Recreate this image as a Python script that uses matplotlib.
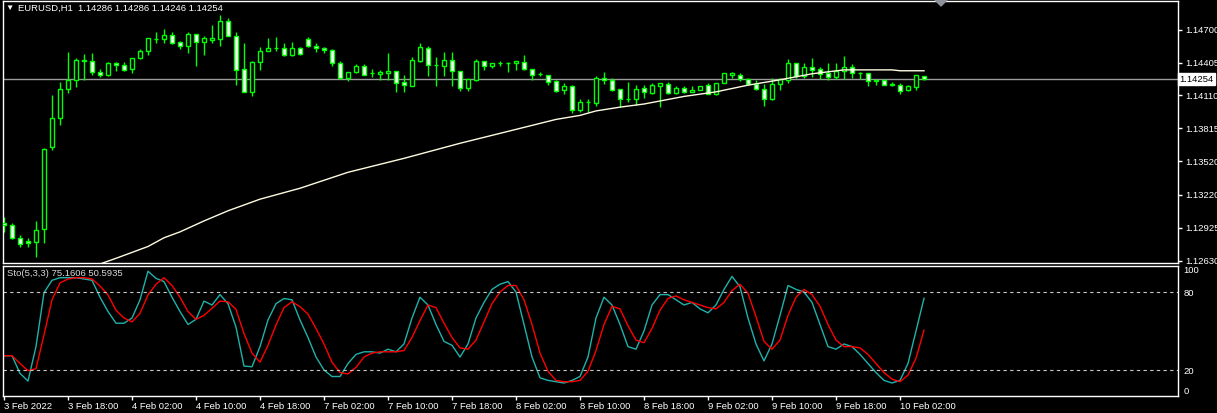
import numpy as np
import matplotlib
matplotlib.use('Agg')
import matplotlib.pyplot as plt
from matplotlib.patches import Polygon
from matplotlib.transforms import blended_transform_factory

plt.rcParams['font.family'] = ['Liberation Sans', 'DejaVu Sans']

# EURUSD H1 candles (3 Feb 10:00 .. 10 Feb 05:00)
o = [1.12965, 1.12947, 1.12836, 1.12809, 1.12800, 1.12912, 1.13645, 1.13909, 1.14170, 1.14250,
     1.14418, 1.14416, 1.14324, 1.14289, 1.14402, 1.14384, 1.14345, 1.14443, 1.14506, 1.14617,
     1.14613, 1.14652, 1.14590, 1.14550, 1.14661, 1.14586, 1.14610, 1.14617, 1.14780, 1.14646,
     1.14348, 1.14139, 1.14407, 1.14506, 1.14534, 1.14536, 1.14470, 1.14536, 1.14617, 1.14554,
     1.14536, 1.14518, 1.14402, 1.14264, 1.14318, 1.14378, 1.14309, 1.14304, 1.14309, 1.14333,
     1.14229, 1.14193, 1.14416, 1.14536, 1.14384, 1.14372, 1.14429, 1.14333, 1.14175, 1.14250,
     1.14423, 1.14372, 1.14398, 1.14405, 1.14398, 1.14407, 1.14348, 1.14300, 1.14295, 1.14235,
     1.14161, 1.14190, 1.13976, 1.14047, 1.14041, 1.14268, 1.14250, 1.14170, 1.14080, 1.14080,
     1.14179, 1.14134, 1.14193, 1.14214, 1.14130, 1.14179, 1.14139, 1.14163, 1.14199, 1.14125,
     1.14220, 1.14295, 1.14297, 1.14259, 1.14214, 1.14170, 1.14074, 1.14214, 1.14244, 1.14402,
     1.14282, 1.14369, 1.14348, 1.14309, 1.14273, 1.14327, 1.14369, 1.14313, 1.14313, 1.14244,
     1.14244, 1.14208, 1.14205, 1.14161, 1.14184, 1.14286]
h = [1.13019, 1.12965, 1.12858, 1.12831, 1.12983, 1.13636, 1.14110, 1.14230, 1.14503, 1.14449,
     1.14481, 1.14491, 1.14348, 1.14414, 1.14407, 1.14414, 1.14449, 1.14527, 1.14628, 1.14682,
     1.14706, 1.14676, 1.14601, 1.14682, 1.14664, 1.14646, 1.14744, 1.14834, 1.14804, 1.14676,
     1.14577, 1.14423, 1.14548, 1.14622, 1.14631, 1.14577, 1.14592, 1.14548, 1.14637, 1.14577,
     1.14548, 1.14527, 1.14423, 1.14324, 1.14393, 1.14393, 1.14348, 1.14339, 1.14488, 1.14333,
     1.14297, 1.14458, 1.14584, 1.14557, 1.14452, 1.14503, 1.14503, 1.14333, 1.14259, 1.14432,
     1.14423, 1.14402, 1.14423, 1.14414, 1.14423, 1.14476, 1.14348, 1.14318, 1.14295, 1.14244,
     1.14223, 1.14199, 1.14080, 1.14080, 1.14280, 1.14324, 1.14264, 1.14170, 1.14229, 1.14205,
     1.14199, 1.14223, 1.14223, 1.14229, 1.14193, 1.14193, 1.14190, 1.14196, 1.14223, 1.14223,
     1.14313, 1.14318, 1.14309, 1.14268, 1.14244, 1.14214, 1.14268, 1.14268, 1.14438, 1.14402,
     1.14402, 1.14447, 1.14369, 1.14402, 1.14402, 1.14467, 1.14393, 1.14318, 1.14313, 1.14259,
     1.14259, 1.14229, 1.14223, 1.14199, 1.14289, 1.14286]
l = [1.12885, 1.12827, 1.12751, 1.12751, 1.12666, 1.12791, 1.13618, 1.13842, 1.14130, 1.14186,
     1.14250, 1.14289, 1.14273, 1.14280, 1.14333, 1.14333, 1.14309, 1.14434, 1.14476, 1.14577,
     1.14577, 1.14575, 1.14524, 1.14494, 1.14378, 1.14476, 1.14577, 1.14557, 1.14640, 1.14199,
     1.14139, 1.14101, 1.14342, 1.14506, 1.14506, 1.14461, 1.14461, 1.14474, 1.14541, 1.14497,
     1.14488, 1.14378, 1.14253, 1.14238, 1.14309, 1.14289, 1.14273, 1.14244, 1.14244, 1.14139,
     1.14145, 1.14193, 1.14407, 1.14282, 1.14193, 1.14282, 1.14193, 1.14154, 1.14154, 1.14238,
     1.14342, 1.14354, 1.14372, 1.14318, 1.14342, 1.14342, 1.14250, 1.14282, 1.14205, 1.14139,
     1.14119, 1.13952, 1.13961, 1.13961, 1.14011, 1.14214, 1.14154, 1.14005, 1.14050, 1.14020,
     1.14086, 1.14125, 1.14005, 1.14119, 1.14119, 1.14130, 1.14139, 1.14161, 1.14119, 1.14110,
     1.14220, 1.14264, 1.14238, 1.14199, 1.14161, 1.14014, 1.14065, 1.14163, 1.14223, 1.14268,
     1.14268, 1.14273, 1.14253, 1.14244, 1.14253, 1.14253, 1.14268, 1.14259, 1.14193, 1.14199,
     1.14199, 1.14190, 1.14119, 1.14154, 1.14163, 1.14246]
c = [1.12947, 1.12836, 1.12782, 1.12787, 1.12907, 1.13631, 1.13909, 1.14168, 1.14250, 1.14429,
     1.14427, 1.14318, 1.14291, 1.14402, 1.14384, 1.14342, 1.14447, 1.14509, 1.14626, 1.14619,
     1.14652, 1.14584, 1.14554, 1.14661, 1.14586, 1.14626, 1.14626, 1.14780, 1.14640, 1.14342,
     1.14139, 1.14414, 1.14512, 1.14536, 1.14536, 1.14470, 1.14536, 1.14482, 1.14550, 1.14536,
     1.14518, 1.14402, 1.14264, 1.14324, 1.14378, 1.14295, 1.14313, 1.14318, 1.14333, 1.14220,
     1.14205, 1.14429, 1.14548, 1.14384, 1.14387, 1.14429, 1.14327, 1.14175, 1.14259, 1.14423,
     1.14372, 1.14402, 1.14400, 1.14403, 1.14423, 1.14348, 1.14295, 1.14298, 1.14229, 1.14154,
     1.14190, 1.13982, 1.14047, 1.14049, 1.14268, 1.14250, 1.14163, 1.14074, 1.14082, 1.14170,
     1.14139, 1.14199, 1.14220, 1.14130, 1.14179, 1.14139, 1.14161, 1.14196, 1.14125, 1.14223,
     1.14313, 1.14309, 1.14253, 1.14208, 1.14170, 1.14080, 1.14214, 1.14259, 1.14402, 1.14282,
     1.14369, 1.14342, 1.14304, 1.14273, 1.14333, 1.14369, 1.14309, 1.14311, 1.14238, 1.14242,
     1.14205, 1.14206, 1.14154, 1.14190, 1.14289, 1.14254]

# moving average (bar index, value)
ma_bar = [12, 14, 18, 20, 22, 25, 28, 32, 37, 43, 50, 57, 62, 69, 72, 74, 77, 80, 85, 89,
          93, 97, 101, 105, 111, 112, 115]
ma_val = [1.12599, 1.12650, 1.12756, 1.12834, 1.12887, 1.12985, 1.13076, 1.13180, 1.13278,
          1.13421, 1.13546, 1.13681, 1.13770, 1.13895, 1.13931, 1.13971, 1.14005, 1.14033,
          1.14101, 1.14142, 1.14202, 1.14250, 1.14304, 1.14339, 1.14339, 1.14331, 1.14331]

# Stochastic(5,3,3): main and signal
sto_k = [31, 31, 17.4, 11.5, 38, 79.5, 89, 91, 91, 91, 90, 89, 76, 65, 56, 56, 60, 74, 96, 90.5,
         88, 76, 65, 55, 59, 73, 70, 78, 71, 53, 23, 22.5, 38, 58.5, 71, 75, 74, 58.5,
         45, 30, 20, 15, 15, 25, 32, 34, 34, 33, 36, 34, 40, 60, 76, 70, 55, 42, 39, 30,
         40, 60, 72, 82, 86, 88, 80, 55, 30, 14, 12, 11, 10, 12, 15, 30, 60, 76, 70, 55,
         38, 36, 50, 70, 78, 78, 74, 70, 72, 67, 64, 70, 82, 92, 84, 60, 40, 27, 40, 62,
         85, 82, 80, 72, 55, 38, 36, 40, 38, 32, 25, 18, 12, 10, 12, 25, 50, 75.16]
sto_d = [31, 31, 25, 19.5, 21, 47, 74, 87, 90, 91, 91, 90, 84.6, 77.7, 66, 60, 57, 63.6, 77.7, 86,
         91, 85, 76, 65, 59, 62, 67.5, 73, 72.5, 66.7, 48, 33, 26, 39, 54.6, 68, 72.5, 68.7,
         63, 52, 40, 26, 18, 17, 22, 30, 33, 34, 34, 34, 35, 45, 58, 70, 68, 56, 45, 37,
         36, 43, 57, 71, 80, 85, 85, 74, 55, 33, 19, 12, 11, 11, 12, 19, 35, 55, 69, 67,
         54, 43, 41, 52, 66, 75, 77, 74, 72, 70, 68, 67, 72, 81, 86, 79, 61, 42, 36, 43,
         62, 76, 82, 78, 69, 55, 43, 38, 38, 37, 32, 25, 18, 13, 11, 16, 29, 50.59]

price_ticks = [1.14700, 1.14405, 1.14110, 1.13815, 1.13520, 1.13220, 1.12925, 1.12630]
time_labels = ['3 Feb 2022', '3 Feb 18:00', '4 Feb 02:00', '4 Feb 10:00', '4 Feb 18:00',
               '7 Feb 02:00', '7 Feb 10:00', '7 Feb 18:00', '8 Feb 02:00', '8 Feb 10:00',
               '8 Feb 18:00', '9 Feb 02:00', '9 Feb 10:00', '9 Feb 18:00', '10 Feb 02:00']
last_price = 1.14254

o, h, l, c = map(np.array, (o, h, l, c))
idx = np.arange(len(o))

W, H = 1217, 413
fs = 6.8
fig = plt.figure(figsize=(W / 100, H / 100), dpi=100, facecolor='black')
x0, x1 = 2.7, 1178
ax = fig.add_axes([x0 / W, 1 - 263 / H, (x1 - x0) / W, (263 - 0.7) / H], facecolor='black')
ax2 = fig.add_axes([x0 / W, 1 - 396 / H, (x1 - x0) / W, (396 - 266) / H], facecolor='black')

xlim = ((x0 - 4) / 8, (x1 - 4) / 8)
green = '#00ff00'

# candles
bull = c >= o
ax.vlines(idx, l, h, color=green, lw=1, zorder=2)
ax.bar(idx, np.abs(c - o), bottom=np.minimum(o, c), width=0.6,
       color=np.where(bull, 'black', 'white'), edgecolor=green, lw=1, zorder=3)
ax.plot(ma_bar, ma_val, color='#fffbe0', lw=1, zorder=4)
ax.axhline(last_price, color='#9a9a9a', lw=1, zorder=1)

ax.set_xlim(*xlim)
ax.set_ylim(1.12608, 1.14959)
ax.set_xticks([])
ax.yaxis.tick_right()
ax.set_yticks(price_ticks, [f'{p:.5f}' for p in price_ticks])
ax.tick_params(axis='y', colors='white', length=3, width=1, labelsize=fs, pad=2)
ax.text(1.0015, last_price, f'{last_price:.5f}', color='black', fontsize=fs, va='center',
        ha='left', transform=blended_transform_factory(ax.transAxes, ax.transData),
        bbox=dict(facecolor='white', edgecolor='white', pad=1.0), clip_on=False)

# stochastic
ax2.plot(idx, sto_k, color='#20b2aa', lw=1)
ax2.plot(idx, sto_d, color='red', lw=1)
for lev in (80, 20):
    ax2.axhline(lev, color='#c8c8c8', lw=0.8, ls=(0, (3, 3)))
ax2.set_xlim(*xlim)
ax2.set_ylim(0, 100)
ax2.yaxis.tick_right()
ax2.set_yticks([100, 80, 20, 0], ['100', '80', '20', '0'])
for lab in ax2.get_yticklabels():
    if lab.get_text() == '100':
        lab.set_va('top')
    elif lab.get_text() == '0':
        lab.set_va('bottom')
ax2.tick_params(axis='y', colors='white', length=0, labelsize=fs, pad=4)
ax2.set_xticks(np.arange(len(time_labels)) * 8, time_labels)
for lab in ax2.get_xticklabels():
    lab.set_ha('left')
ax2.tick_params(axis='x', colors='white', length=3, width=1, labelsize=fs, pad=1)

for a in (ax, ax2):
    for s in a.spines.values():
        s.set_color('white')
        s.set_linewidth(1)

fig.text(5 / W, 1 - 8 / H, '\u25bc', color='white', fontsize=6, va='center')
fig.text(18 / W, 1 - 8 / H, 'EURUSD,H1  1.14286 1.14286 1.14246 1.14254', color='white',
         fontsize=fs, va='center')
fig.text(7 / W, 1 - 274 / H, 'Sto(5,3,3) 75.1606 50.5935', color='#d8d8d8', fontsize=fs,
         va='center')
fig.add_artist(Polygon([[935 / W, 1], [947 / W, 1], [941 / W, 1 - 6 / H]], closed=True,
                       transform=fig.transFigure, color='#8c919a'))

fig.savefig('out.png', dpi=100, facecolor='black')
